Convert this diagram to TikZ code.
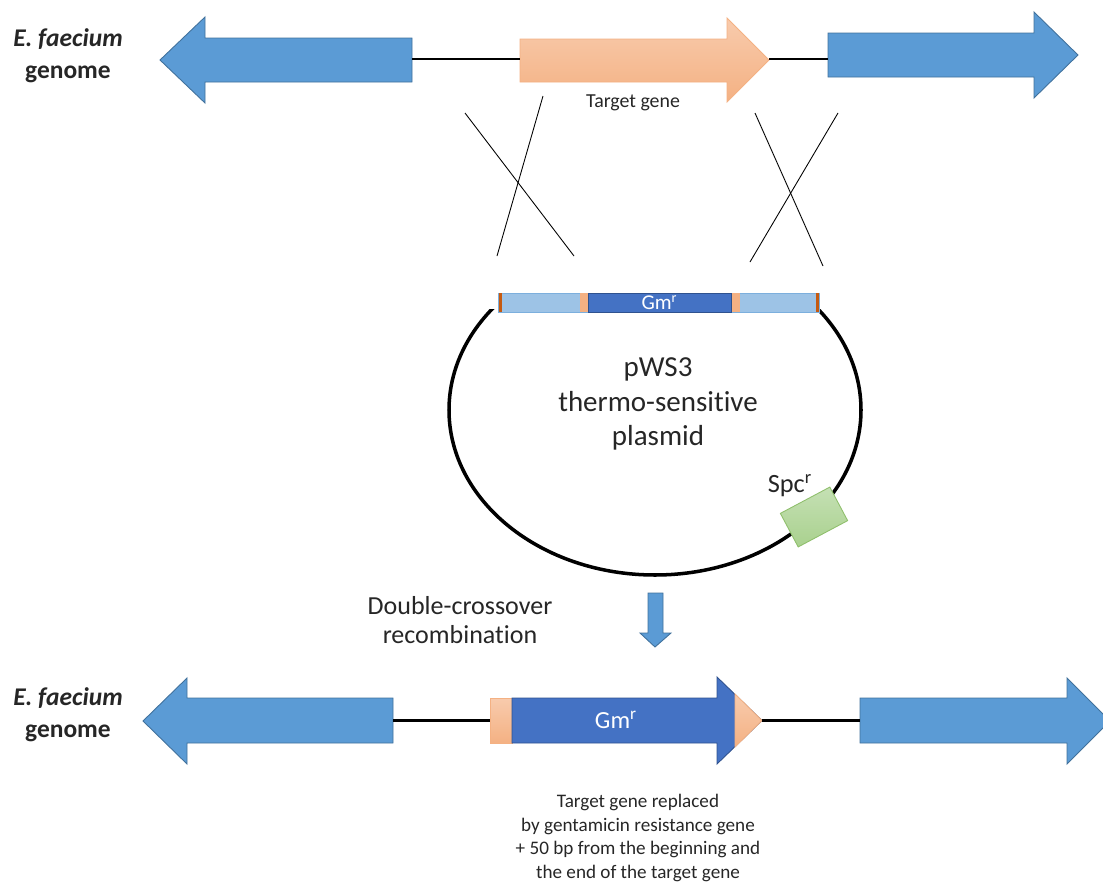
\documentclass[tikz,border=0pt]{standalone}
\usepackage{fontspec}
\setmainfont{Carlito}[Ligatures=NoCommon]
\usetikzlibrary{positioning}
\definecolor{geneblue}{HTML}{5B9BD5}
\definecolor{geneedge}{HTML}{41719C}
\definecolor{salmon}{HTML}{F4B183}
\definecolor{salmonlight}{HTML}{F8CBAD}
\definecolor{gmblue}{HTML}{4472C4}
\definecolor{gmedge}{HTML}{2F528F}
\definecolor{flankblue}{HTML}{9DC3E6}
\definecolor{capred}{HTML}{C55A11}
\definecolor{spcgreen}{HTML}{A9D18E}
\definecolor{spclight}{HTML}{C5E0B4}
\definecolor{spcedge}{HTML}{8FBF6C}
\definecolor{txt}{HTML}{262626}
\tikzset{
  gene/.style={fill=geneblue, draw=geneedge, line width=0.5pt},
  target/.style={top color=salmonlight, bottom color=salmon, draw=salmon, line width=0.5pt},
  gmarrow/.style={fill=gmblue, draw=gmedge, line width=0.5pt},
  dna/.style={black, line width=1.6pt},
  crossline/.style={black, line width=0.5pt},
  barpart/.style={inner sep=0pt, outer sep=0pt, minimum height=0.38cm},
  spcbox/.style={top color=spclight, bottom color=spcgreen, draw=spcedge, line width=0.5pt},
  lbl/.style={text=txt, align=center, inner sep=0pt},
}

\begin{document}
\begin{tikzpicture}[x=0.02cm, y=-0.02cm]
\useasboundingbox (0,0) rectangle (1103,886);

% genome before recombination
\filldraw[gene] (412,38) -- (205,38) -- (205,17) -- (160,60) -- (205,103) -- (205,82) -- (412,82) -- cycle;
\draw[target] (520,39) -- (727,39) -- (727,18) -- (769,60) -- (727,102) -- (727,82) -- (520,82) -- cycle;
\filldraw[gene] (828,33) -- (1034,33) -- (1034,12) -- (1078,55) -- (1034,98) -- (1034,77) -- (828,77) -- cycle;
\coordinate (lgeneA) at (412,59);
\coordinate (tgeneW) at (520,59);
\coordinate (tgeneE) at (769,59);
\coordinate (rgeneA) at (828,59);
\draw[dna] (lgeneA) -- (tgeneW);
\draw[dna] (tgeneE) -- (rgeneA);
\node[lbl, font=\fontsize{14.5}{18}\selectfont\bfseries] (nameA) at (68,56) {\textit{E. faecium}\\genome};
\node[lbl, font=\fontsize{11.3}{13}\selectfont] (tglabel) at (633,103) {Target gene};

% crossovers
\draw[crossline] (543,96) -- (497,256);
\draw[crossline] (465,113) -- (574,256);
\draw[crossline] (755,113) -- (823,266);
\draw[crossline] (838,113) -- (750,262);

% plasmid
\begin{scope}
\clip (0,309) rectangle (1103,886);
\draw[black, line width=2pt] (655,410) ellipse [x radius=206, y radius=165];
\end{scope}
\node[barpart, fill=flankblue, draw=geneblue!80, line width=0.4pt, minimum width=6.42cm] (bar) at (659,302.5) {};
\fill[salmon] (580,293) rectangle (588,312);
\fill[salmon] (731,293) rectangle (740,312);
\fill[capred] (bar.north west) rectangle ([xshift=0.06cm]bar.south west);
\fill[capred] ([xshift=-0.06cm]bar.north east) rectangle (bar.south east);
\node[barpart, fill=gmblue, draw=gmedge, line width=0.4pt, minimum width=2.86cm, text=white, font=\fontsize{12}{14}\selectfont] (gmbar) at (659.5,302.5) {Gm\textsuperscript{r}};
\node[lbl, font=\fontsize{16.5}{19.5}\selectfont] (plasmid) at (658,404) {pWS3\\thermo-sensitive\\plasmid};
\node[spcbox, rotate=28, minimum width=1.12cm, minimum height=0.76cm] (spc) at (814,517) {};
\node[lbl, font=\fontsize{15}{17}\selectfont] (spclabel) at (790,486) {Spc\textsuperscript{r}};

% recombination
\filldraw[gene] (648,593) -- (663,593) -- (663,633) -- (671,633) -- (655,647) -- (640,633) -- (648,633) -- cycle;
\node[lbl, font=\fontsize{14.8}{17}\selectfont] (dxlabel) at (460,620) {Double-crossover\\recombination};

% genome after recombination
\filldraw[gene] (393,698) -- (187,698) -- (187,678) -- (143,721) -- (187,764) -- (187,743) -- (393,743) -- cycle;
\node[target, inner sep=0pt, minimum width=0.44cm, minimum height=0.9cm] (gmhead) at (501,720.5) {};
\filldraw[gmarrow] (512,698) -- (717,698) -- (717,677) -- (762,720.5) -- (717,764) -- (717,743) -- (512,743) -- cycle;
\draw[target] (735,694) -- (762,720.5) -- (735,747) -- cycle;
\node[lbl, text=white, font=\fontsize{14}{16}\selectfont] (gmlabel) at (616,720) {Gm\textsuperscript{r}};
\filldraw[gene] (860,698) -- (1067,698) -- (1067,678) -- (1110,721) -- (1067,764) -- (1067,743) -- (860,743) -- cycle;
\coordinate (lgeneB) at (393,720.5);
\coordinate (gmtip) at (762,720.5);
\coordinate (rgeneB) at (860,720.5);
\draw[dna] (lgeneB) -- (gmhead.west);
\draw[dna] (gmtip) -- (rgeneB);
\node[lbl, font=\fontsize{14.5}{18}\selectfont\bfseries] (nameB) at (68,715) {\textit{E. faecium}\\genome};
\node[lbl, font=\fontsize{10.9}{13.4}\selectfont] (result) at (638,838) {Target gene replaced\\by gentamicin resistance gene\\+ 50 bp from the beginning and\\the end of the target gene};
\end{tikzpicture}
\end{document}
